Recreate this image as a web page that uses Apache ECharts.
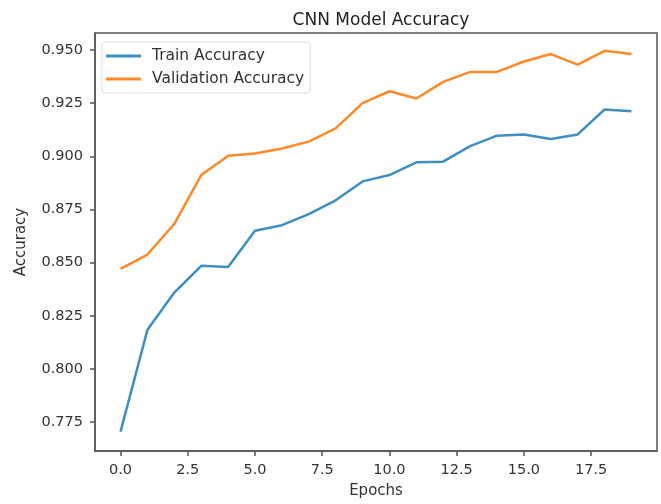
<!DOCTYPE html>
<html>
<head>
<meta charset="utf-8">
<script src="https://cdn.jsdelivr.net/npm/echarts@6/dist/echarts.min.js"></script>
<style>html,body{margin:0;padding:0;background:#fff}#c{width:661px;height:504px}</style>
</head>
<body>
<div id="c"></div>
<script>
var epochs = [0,1,2,3,4,5,6,7,8,9,10,11,12,13,14,15,16,17,18,19];
var trainAcc = [0.7705,0.8184,0.8359,0.8485,0.8479,0.8650,0.8676,0.8728,0.8793,0.8882,0.8912,0.8972,0.8975,0.9048,0.9097,0.9103,0.9081,0.9103,0.9220,0.9212];
var valAcc = [0.8471,0.8538,0.8682,0.8912,0.9003,0.9013,0.9037,0.9069,0.9131,0.9250,0.9306,0.9272,0.9350,0.9397,0.9397,0.9446,0.9481,0.9431,0.9496,0.9481];
var xTicks = [0,2.5,5,7.5,10,12.5,15,17.5];
var yTicks = [0.775,0.800,0.825,0.850,0.875,0.900,0.925,0.950];
var seriesNames = ['Train Accuracy','Validation Accuracy'];

var chart = echarts.init(document.getElementById('c'), null, {renderer:'canvas'});
var font = 'DejaVu Sans';
function pairs(v){ return epochs.map(function(e,i){ return [e, v[i]]; }); }
chart.setOption({
  animation:false,
  backgroundColor:'#fff',
  title:{text:'CNN Model Accuracy', left:376, top:7, textAlign:'center',
    textStyle:{fontFamily:font, fontSize:17, fontWeight:'normal', color:'#222'}},
  legend:{orient:'vertical', left:102, top:42, itemWidth:35, itemHeight:3, itemGap:7,
    icon:'rect', padding:[6,6,6,4], backgroundColor:'rgba(255,255,255,0.8)',
    borderColor:'#ddd', borderWidth:1, borderRadius:3,
    textStyle:{fontFamily:font, fontSize:15.5, lineHeight:16, color:'#333', padding:[0,0,0,6]},
    data:seriesNames},
  grid:{left:95, right:4, top:33, bottom:50, show:true, borderColor:'#555', borderWidth:1.5},
  xAxis:{type:'value', min:-0.95, max:19.95, name:'Epochs', nameLocation:'middle', nameGap:33,
    nameTextStyle:{fontFamily:font, fontSize:15, color:'#333'},
    splitLine:{show:false},
    axisLine:{show:true, onZero:false, lineStyle:{color:'#555', width:1.5}},
    axisTick:{show:true, inside:false, length:5, lineStyle:{color:'#555', width:1.5}, customValues:xTicks},
    axisLabel:{fontFamily:font, fontSize:14.5, color:'#333', margin:12, customValues:xTicks,
      formatter:function(v){ return v.toFixed(1); }}},
  yAxis:{type:'value', min:0.7614, max:0.958, name:'Accuracy', nameLocation:'middle', nameGap:66,
    nameTextStyle:{fontFamily:font, fontSize:15, color:'#333'},
    splitLine:{show:false},
    axisLine:{show:true, onZero:false, lineStyle:{color:'#555', width:1.5}},
    axisTick:{show:true, inside:false, length:5, lineStyle:{color:'#555', width:1.5}, customValues:yTicks},
    axisLabel:{fontFamily:font, fontSize:14.5, color:'#333', margin:12, customValues:yTicks,
      formatter:function(v){ return v.toFixed(3); }}},
  series:[
    {name:seriesNames[0], type:'line', data:pairs(trainAcc), showSymbol:false, symbol:'none',
      itemStyle:{color:'#3f8fc5'}, lineStyle:{color:'#3f8fc5', width:2.5}},
    {name:seriesNames[1], type:'line', data:pairs(valAcc), showSymbol:false, symbol:'none',
      itemStyle:{color:'#ff8a2a'}, lineStyle:{color:'#ff8a2a', width:2.5}}
  ]
});
</script>
</body>
</html>
